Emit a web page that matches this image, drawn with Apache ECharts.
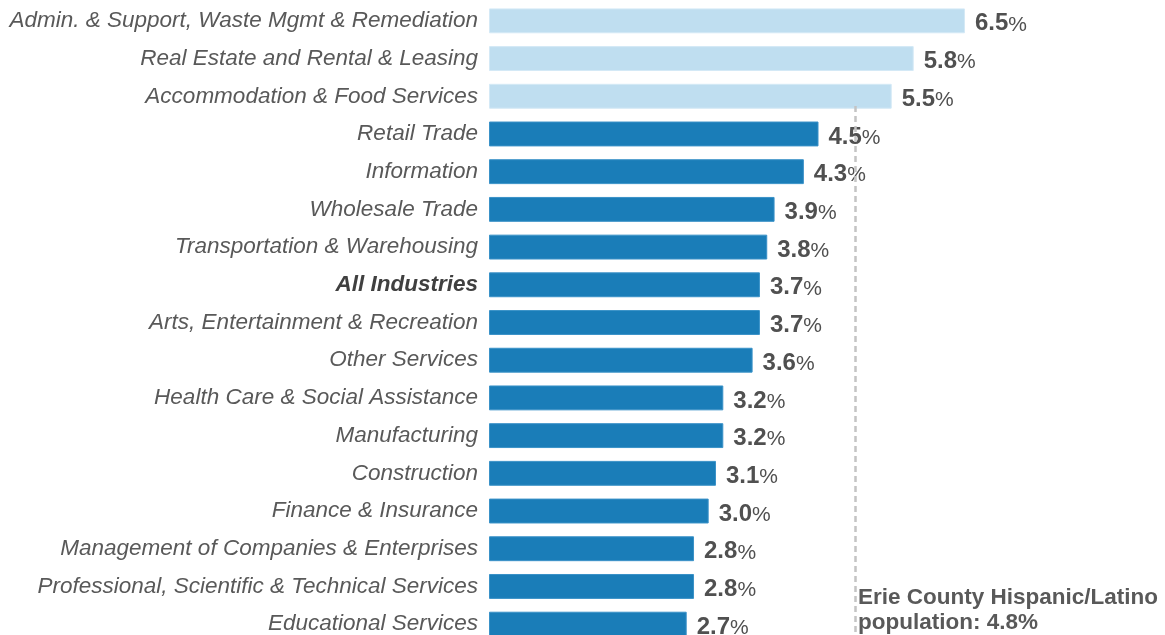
<!DOCTYPE html>
<html>
<head>
<meta charset="utf-8">
<script src="https://cdn.jsdelivr.net/npm/echarts@6/dist/echarts.min.js"></script>
<style>
  html, body { margin: 0; padding: 0; background: #fff; }
  #main { width: 1165px; height: 635px; }
</style>
</head>
<body>
<div id="main"></div>
<script>
// 行业类别（从上到下）
var categories = [
    'Admin. & Support, Waste Mgmt & Remediation',
    'Real Estate and Rental & Leasing',
    'Accommodation & Food Services',
    'Retail Trade',
    'Information',
    'Wholesale Trade',
    'Transportation & Warehousing',
    'All Industries',
    'Arts, Entertainment & Recreation',
    'Other Services',
    'Health Care & Social Assistance',
    'Manufacturing',
    'Construction',
    'Finance & Insurance',
    'Management of Companies & Enterprises',
    'Professional, Scientific & Technical Services',
    'Educational Services'
];
var shares = [6.5, 5.8, 5.5, 4.5, 4.3, 3.9, 3.8, 3.7, 3.7, 3.6, 3.2, 3.2, 3.1, 3.0, 2.8, 2.8, 2.7];
// 前三个高于县人口比例，用浅色
var highlighted = [true, true, true, false, false, false, false, false, false, false, false, false, false, false, false, false, false];

// 参考线：图中虚线的位置（标注文字为 4.8%）
var refLinePos = 5.0;
var refLineText = 'Erie County Hispanic/Latino\npopulation: 4.8%';

var FONT = 'Liberation Sans, Arial, sans-serif';

var barData = [];
for (var i = 0; i < shares.length; i++) {
    barData.push({
        value: shares[i],
        itemStyle: {
            color: highlighted[i] ? '#BFDEF0' : '#1A7DB8',
            borderColor: highlighted[i] ? '#D4E9F6' : '#3A92C8',
            borderWidth: 1
        }
    });
}

var option = {
    animation: false,
    grid: {
        left: 489,
        right: 17,
        top: 2,
        height: 641,
        outerBoundsMode: 'none'
    },
    xAxis: {
        type: 'value',
        min: 0,
        max: 9,
        show: false
    },
    yAxis: {
        type: 'category',
        data: categories,
        inverse: true,
        axisLine: { show: false },
        axisTick: { show: false },
        axisLabel: {
            margin: 11,
            fontFamily: FONT,
            fontSize: 22.5,
            fontStyle: 'italic',
            color: '#595959',
            formatter: function (v) {
                return v === 'All Industries' ? '{b|' + v + '}' : v;
            },
            rich: {
                b: {
                    fontFamily: FONT,
                    fontSize: 22.5,
                    fontStyle: 'italic',
                    fontWeight: 'bold',
                    color: '#404040'
                }
            }
        }
    },
    series: [
        {
            type: 'bar',
            data: barData,
            barCategoryGap: '34%',
            label: {
                show: true,
                position: 'right',
                distance: 10,
                offset: [0, 3],
                formatter: function (p) {
                    return '{n|' + p.value.toFixed(1) + '}{p|%}';
                },
                rich: {
                    n: {
                        fontFamily: FONT,
                        fontSize: 24,
                        fontWeight: 'bold',
                        color: '#505050'
                    },
                    p: {
                        fontFamily: FONT,
                        fontSize: 21,
                        color: '#505050',
                        padding: [2, 0, 0, 0]
                    }
                }
            },
            markLine: {
                symbol: 'none',
                silent: true,
                lineStyle: {
                    color: '#C4C4C4',
                    type: [6, 4],
                    width: 2.5
                },
                label: { show: false },
                data: [
                    [
                        { xAxis: refLinePos, y: 106 },
                        { xAxis: refLinePos, y: 635 }
                    ]
                ]
            }
        }
    ],
    graphic: [
        {
            type: 'text',
            left: 858,
            top: 585,
            style: {
                text: refLineText,
                fontFamily: FONT,
                fontSize: 22.5,
                fontWeight: 'bold',
                lineHeight: 25,
                fill: '#595959'
            }
        }
    ]
};

var chart = echarts.init(document.getElementById('main'));
chart.setOption(option);
</script>
</body>
</html>
